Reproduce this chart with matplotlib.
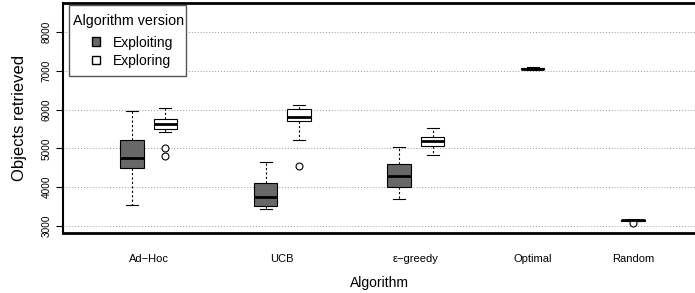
import matplotlib.pyplot as plt
from matplotlib.patches import Patch, Rectangle

plt.rcParams['font.family'] = ['Liberation Sans', 'DejaVu Sans']

algorithms = ["Ad\u2212Hoc", "UCB", "\u03b5\u2212greedy", "Optimal", "Random"]
label_pos = [1.5, 5.5, 9.5, 13, 16]

# five-number summaries: whislo, q1, med, q3, whishi
exploiting = [
    (3550, 4490, 4750, 5210, 5970),
    (3445, 3515, 3740, 4110, 4640),
    (3690, 4010, 4300, 4600, 5040),
]
exploiting_fliers = [[], [], []]
exploring = [
    (5420, 5510, 5640, 5770, 6050),
    (5220, 5700, 5820, 6025, 6120),
    (4820, 5060, 5180, 5300, 5520),
]
exploring_fliers = [[5000, 4810], [4540], []]
optimal = (7030, 7045, 7060, 7075, 7090)
random_ = (3125, 3140, 3150, 3160, 3170)
random_fliers = [3090]

exploit_pos = [1, 5, 9]
explore_pos = [2, 6, 10]


def stats(vals, fliers):
    lo, q1, med, q3, hi = vals
    return dict(whislo=lo, q1=q1, med=med, q3=q3, whishi=hi, fliers=fliers)


fig = plt.figure(figsize=(6.95, 2.93), dpi=100)
ax = fig.add_axes([0.0906, 0.2048, 0.9094, 0.785])

style = dict(
    widths=0.7, patch_artist=True,
    medianprops=dict(color="black", linewidth=2),
    whiskerprops=dict(color="black", linestyle=(0, (2, 2)), linewidth=0.8),
    capprops=dict(color="black", linewidth=0.8),
    flierprops=dict(marker="o", markerfacecolor="white", markeredgecolor="black",
                    markersize=5, markeredgewidth=0.8),
)

b1 = ax.bxp([stats(v, f) for v, f in zip(exploiting, exploiting_fliers)],
            positions=exploit_pos, **style)
b2 = ax.bxp([stats(v, f) for v, f in zip(exploring, exploring_fliers)],
            positions=explore_pos, **style)
b3 = ax.bxp([stats(optimal, []), stats(random_, random_fliers)],
            positions=[13, 16], **style)

for b in b1["boxes"]:
    b.set_facecolor("#686868")
    b.set_edgecolor("black")
    b.set_linewidth(0.8)
for b in b2["boxes"] + b3["boxes"]:
    b.set_facecolor("white")
    b.set_edgecolor("black")
    b.set_linewidth(0.8)
for c in b1["caps"] + b2["caps"] + b3["caps"]:
    x = c.get_xdata()
    m = (x[0] + x[1]) / 2
    c.set_xdata([m - 0.18, m + 0.18])

ax.set_xlim(-1.07, 17.86)
ax.set_ylim(2820, 8750)
ax.set_yticks([3000, 4000, 5000, 6000, 7000, 8000])
ax.set_xticks(label_pos)
ax.set_xticklabels(algorithms, fontsize=8)
ax.tick_params(axis="x", length=0, pad=15)
ax.tick_params(axis="y", labelsize=7.2, labelrotation=90, length=5, width=0.8, pad=3)
for t in ax.get_yticklabels():
    t.set_verticalalignment("center")
ax.yaxis.grid(True, linestyle=(0, (1, 2)), color="#999999", linewidth=0.7)
ax.set_axisbelow(True)

ax.spines["right"].set_visible(False)
ax.spines["top"].set_linewidth(2)
ax.spines["bottom"].set_linewidth(2)
ax.spines["left"].set_linewidth(1.5)

ax.set_xlabel("Algorithm", fontsize=10, labelpad=9)
ax.set_ylabel("Objects retrieved", fontsize=12, labelpad=11)

# legend frame drawn by hand (R-style padding)
lx0, lx1, ly0, ly1 = 0.0095, 0.1946, 0.6826, 0.9913
ax.add_patch(Rectangle((lx0, ly0), lx1 - lx0, ly1 - ly0, transform=ax.transAxes,
                       facecolor="white", edgecolor="#555555", linewidth=1.0, zorder=4))
handles = [Patch(facecolor="#686868", edgecolor="black", label="Exploiting"),
           Patch(facecolor="white", edgecolor="black", label="Exploring")]
leg = ax.legend(handles=handles, title="Algorithm version", loc="upper left",
                bbox_to_anchor=(0.0158, 0.953), alignment="left",
                fontsize=10, title_fontsize=10.3, frameon=False,
                borderaxespad=0.0, borderpad=0.0,
                handlelength=0.6, handleheight=0.6, handletextpad=0.95,
                labelspacing=0.3)
leg.set_zorder(5)
leg._legend_handle_box.pad = 13.5
leg._legend_box.sep = -7.8

fig.savefig("out.png", dpi=100)
